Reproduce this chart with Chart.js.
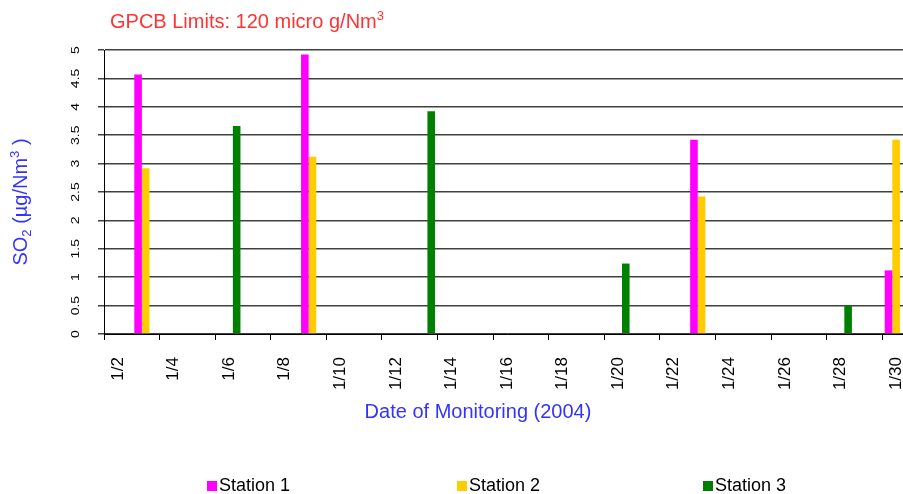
<!DOCTYPE html>
<html><head><meta charset="utf-8">
<script src="https://cdn.jsdelivr.net/npm/chart.js@4.4.1/dist/chart.umd.min.js"></script>
<style>
html,body{margin:0;padding:0;background:#fff;overflow:hidden;}
#wrap{position:relative;width:910px;height:494px;}
</style></head><body>
<div id="wrap"><canvas id="c"></canvas></div>
<script>
const dates = ['1/2','1/3','1/4','1/5','1/6','1/7','1/8','1/9','1/10','1/11','1/12','1/13','1/14','1/15','1/16',
               '1/17','1/18','1/19','1/20','1/21','1/22','1/23','1/24','1/25','1/26','1/27','1/28','1/29','1/30'];
const station1 = [null,4.57,null,null,null,null,null,4.92,null,null,null,null,null,null,null,
                  null,null,null,null,null,null,3.42,null,null,null,null,null,null,1.12];
const station2 = [null,2.92,null,null,null,null,null,3.12,null,null,null,null,null,null,null,
                  null,null,null,null,null,null,2.42,null,null,null,null,null,null,3.42];
const station3 = [null,null,null,null,3.66,null,null,null,null,null,null,3.92,null,null,null,
                  null,null,null,1.24,null,null,null,null,null,null,null,0.50,null,null];
const seriesNames = ['Station 1','Station 2','Station 3'];
const seriesColors = ['#ff00ff','#ffcc00','#008000'];
const yMin = 0, yMax = 5, yStep = 0.5;

const FF = '"Liberation Sans", Arial, sans-serif';

function drawRich(ctx, parts, x, y, size, color, align) {
  const fN = size + 'px ' + FF, fS = Math.round(size * 0.65) + 'px ' + FF;
  let total = 0;
  parts.forEach(p => { ctx.font = p[1] ? fS : fN; total += ctx.measureText(p[0]).width; });
  let cx = align === 'center' ? x - total / 2 : x;
  ctx.fillStyle = color;
  ctx.textAlign = 'left';
  ctx.textBaseline = 'alphabetic';
  parts.forEach(p => {
    ctx.font = p[1] ? fS : fN;
    const dy = p[1] === 1 ? -size * 0.38 : (p[1] === -1 ? size * 0.2 : 0);
    ctx.fillText(p[0], cx, y + dy);
    cx += ctx.measureText(p[0]).width;
  });
}

const textPlugin = {
  id: 'texts',
  afterDraw(chart) {
    const ctx = chart.ctx;
    ctx.save();
    drawRich(ctx, [['GPCB Limits: 120 micro g/Nm', 0], ['3', 1]], 110, 28, 20, '#ff3333', 'left');
    drawRich(ctx, [['Date of Monitoring (2004)', 0]], 478, 418, 20, '#3333ff', 'center');
    ctx.save();
    ctx.translate(27, 202);
    ctx.rotate(-Math.PI / 2);
    drawRich(ctx, [['SO', 0], ['2', -1], [' (\u00b5g/Nm', 0], ['3', 1], [' )', 0]], 0, 0, 20, '#3333ff', 'center');
    ctx.restore();
    const ys = chart.scales.y;
    ys.ticks.forEach(t => {
      const py = ys.getPixelForValue(t.value);
      ctx.save();
      ctx.translate(78.5, py);
      ctx.rotate(-Math.PI / 2);
      ctx.scale(1, 0.8);
      ctx.font = '14px ' + FF;
      ctx.fillStyle = '#000';
      ctx.textAlign = 'center';
      ctx.textBaseline = 'alphabetic';
      ctx.fillText(String(t.value), 0, 0);
      ctx.restore();
    });
    const lx = [207, 457, 703];
    chart.data.datasets.forEach((ds, i) => {
      ctx.fillStyle = ds.backgroundColor;
      ctx.fillRect(lx[i], 481, 10, 10);
      ctx.font = '18px ' + FF;
      ctx.fillStyle = '#000';
      ctx.textAlign = 'left';
      ctx.textBaseline = 'alphabetic';
      ctx.fillText(ds.label, lx[i] + 12, 491);
    });
    ctx.restore();
  }
};

new Chart(document.getElementById('c'), {
  type: 'bar',
  data: {
    labels: dates,
    datasets: [
      { label: seriesNames[0], data: station1, backgroundColor: seriesColors[0] },
      { label: seriesNames[1], data: station2, backgroundColor: seriesColors[1] },
      { label: seriesNames[2], data: station3, backgroundColor: seriesColors[2] }
    ]
  },
  options: {
    responsive: true,
    maintainAspectRatio: false,
    animation: false,
    layout: { padding: { top: 50, left: 0, right: 0, bottom: 100 } },
    datasets: { bar: { barPercentage: 1, categoryPercentage: 0.82 } },
    plugins: { legend: { display: false }, title: { display: false }, tooltip: { enabled: false } },
    scales: {
      x: {
        offset: true,
        grid: {
          offset: true, drawOnChartArea: false, drawTicks: true, tickLength: 6,
          color: c => (c.index % 2 === 0 ? '#000' : 'rgba(0,0,0,0)'), lineWidth: 1
        },
        border: { display: true, color: '#000', width: 1 },
        ticks: {
          autoSkip: false, minRotation: 90, maxRotation: 90, padding: 17,
          color: '#000', font: { family: FF, size: 17 },
          callback: (v, i) => (i % 2 === 0 ? dates[i] : '')
        },
        afterFit: s => { s.height = 60; s.paddingLeft = 0; s.paddingRight = 0; }
      },
      y: {
        min: yMin, max: yMax,
        ticks: { stepSize: yStep, display: false },
        grid: { color: '#404040', lineWidth: 1.5, drawTicks: true, tickLength: 6 },
        border: { display: true, color: '#000', width: 1 },
        afterFit: s => { s.width = 104; s.paddingTop = 0; s.paddingBottom = 0; }
      }
    }
  },
  plugins: [textPlugin]
});
</script>
</body></html>
